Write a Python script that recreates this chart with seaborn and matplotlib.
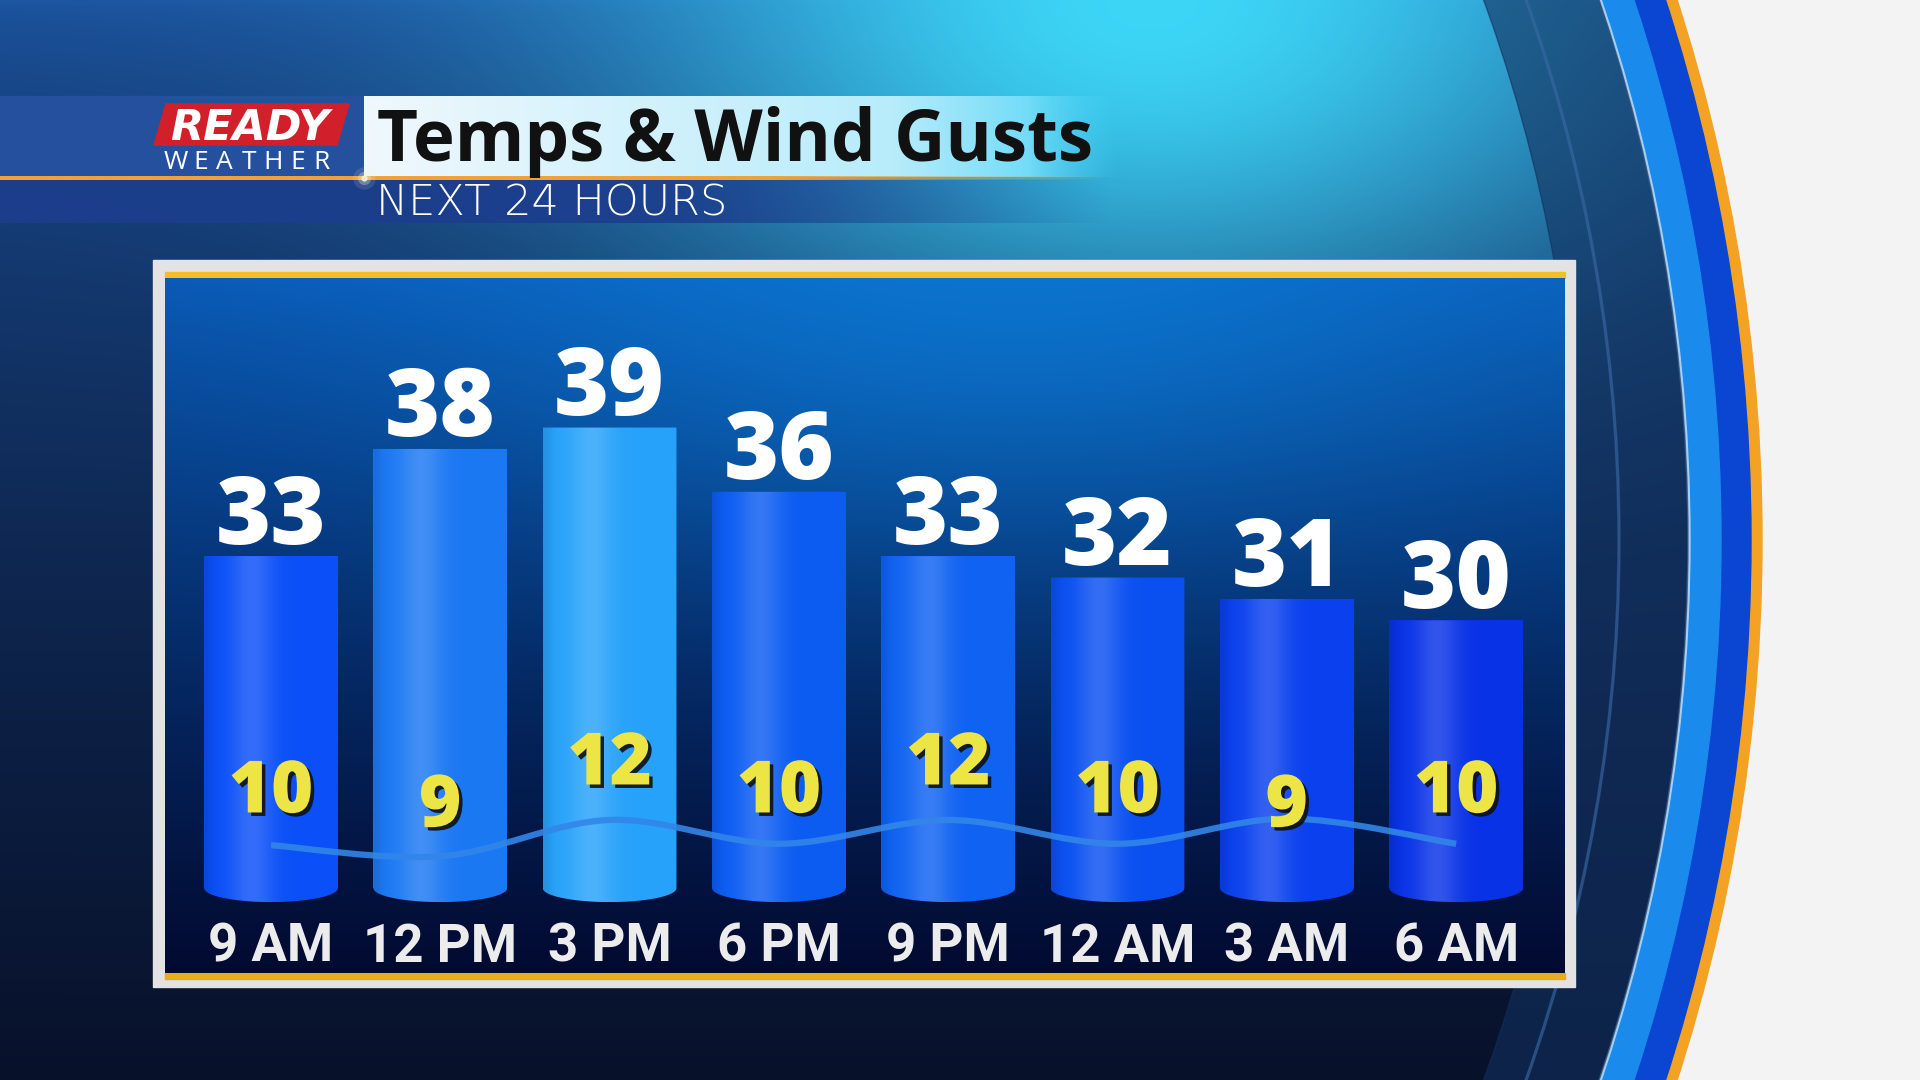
import matplotlib
matplotlib.use("Agg")
import matplotlib.pyplot as plt
import matplotlib.patheffects as pe
from matplotlib.patches import Rectangle, Wedge, Polygon, PathPatch
from matplotlib.path import Path
from matplotlib.colors import to_rgb
import numpy as np
import seaborn as sns

# data
hours = ["9 AM", "12 PM", "3 PM", "6 PM", "9 PM", "12 AM", "3 AM", "6 AM"]
temps = [33, 38, 39, 36, 33, 32, 31, 30]
gusts = [10, 9, 12, 10, 12, 10, 9, 10]
gust_trend = [5.7, 4.9, 7.5, 5.8, 7.5, 5.8, 7.6, 5.8]

title = "Temps & Wind Gusts"
subtitle = "NEXT 24 HOURS"

# style
bar_colors = ["#0a4ff7", "#1b78f3", "#27a2fa", "#0c5cf2", "#0f62f2", "#0a50f0", "#0a40ee", "#0832e6"]
BASE = 17.5

sns.set_theme(style="white")
plt.rcParams["font.family"] = ["Open Sans", "DejaVu Sans"]

W, H = 1920, 1080
fig = plt.figure(figsize=(19.2, 10.8), dpi=100)


def mix(c1, c2, t):
    a = np.array(to_rgb(c1)) if isinstance(c1, str) else c1
    b = np.array(to_rgb(c2)) if isinstance(c2, str) else c2
    t = np.asarray(t)[..., None]
    return a * (1 - t) + b * t


# ---- background (pixel coordinates) ----
bg = fig.add_axes([0, 0, 1, 1])
yy, xx = np.mgrid[0:H:4, 0:W:4].astype(float)
img = mix("#1c55a2", "#08112a", (yy / H) ** 0.6)
glow = np.exp(-((xx - 1150) / 520) ** 2 - (yy / 330) ** 2)
img = mix(img, "#3dd6f7", glow)
bg.imshow(img, extent=[0, W, H, 0], interpolation="bilinear", aspect="auto", zorder=0)

cx, cy = 2, 540
bg.add_patch(Wedge((cx, cy), 4200, 0, 360, width=4200 - 1760, color="#f3f3f3", zorder=1))
bg.add_patch(Wedge((cx, cy), 1760, 0, 360, width=11, color="#f4a223", zorder=1))
bg.add_patch(Wedge((cx, cy), 1749, 0, 360, width=30, color="#0b46d2", zorder=1))
bg.add_patch(Wedge((cx, cy), 1719, 0, 360, width=32, color="#1a8aec", zorder=1))
bg.add_patch(Wedge((cx, cy), 1688, 0, 360, width=2, color="#a6d0f2", zorder=1))
bg.add_patch(Wedge((cx, cy), 1686, 0, 360, width=109, color="#12305e", alpha=0.6, zorder=1))
bg.add_patch(Wedge((cx, cy), 1618, 0, 360, width=2, color="#3a68a5", alpha=0.5, zorder=1))

# header band
bg.add_patch(Rectangle((0, 96), 364, 82, color="#25509e", zorder=2))
u = np.linspace(0, 1, 400)
box = np.zeros((1, 400, 4))
box[0, :, :3] = mix(mix("#f0f8fd", "#b8ecfb", np.clip(u / 0.7, 0, 1)), "#45d2f6", np.clip((u - 0.7) / 0.3, 0, 1))
box[0, :, 3] = np.clip((1 - u) / 0.12, 0, 1)
bg.imshow(box, extent=[364, 1120, 177, 96], aspect="auto", interpolation="bilinear", zorder=2)

band = np.zeros((1, 400, 4))
band[0, :, :3] = to_rgb("#1c3e8d")
band[0, :, 3] = 0.92 * np.clip((1 - u) / 0.4, 0, 1)
bg.imshow(band, extent=[0, 1110, 223, 179], aspect="auto", interpolation="bilinear", zorder=2)

line = np.zeros((1, 400, 4))
line[0, :, :3] = to_rgb("#eea23a")
line[0, :, 3] = np.clip((1 - u) / 0.3, 0, 1)
bg.imshow(line, extent=[0, 1110, 180, 176], aspect="auto", interpolation="bilinear", zorder=3)
for s, a in [(260, 0.12), (90, 0.3), (20, 0.9)]:
    bg.scatter([364], [178], s=s, color="#fff3d6", alpha=a, linewidths=0, zorder=3)

# logo
bg.add_patch(Polygon([(166, 104), (349, 104), (337, 145), (154, 145)], closed=True,
                     color="#d2202a", zorder=3, joinstyle="round"))
bg.text(250, 140, "READY", ha="center", va="baseline", fontsize=31, color="white",
        family="DejaVu Sans", fontweight="bold", style="italic", zorder=4)
for lx, ch in zip(np.linspace(176, 322, 7), "WEATHER"):
    bg.text(lx, 169, ch, ha="center", va="baseline", fontsize=19, color="white", zorder=4)

bg.text(377, 161, title, ha="left", va="baseline", fontsize=51, fontweight="bold",
        color="#111111", zorder=4)
bg.text(376, 216, subtitle, ha="left", va="baseline", fontsize=31, fontweight="light",
        family="DejaVu Sans", color="white", zorder=4)

# chart frame
bg.add_patch(Rectangle((153, 260), 1422, 727, color="#e3e3e3", zorder=4))
bg.add_patch(Rectangle((165, 272), 1400, 6, color="#f2bf2a", zorder=5))
bg.add_patch(Rectangle((165, 973), 1400, 6, color="#e9ad1c", zorder=5))
py, px = np.mgrid[0:695:3, 0:1400:3].astype(float)
pimg = mix("#0a58b4", "#020a30", (py / 695) ** 0.85)
pglow = 0.6 * np.exp(-((px - 850) / 600) ** 2 - (py / 260) ** 2)
pimg = mix(pimg, "#0c86e0", pglow)
bg.imshow(pimg, extent=[165, 1565, 973, 278], aspect="auto", interpolation="bilinear", zorder=5)

bg.set_xlim(0, W)
bg.set_ylim(H, 0)
bg.axis("off")

# ---- chart ----
ax = fig.add_axes([165 / W, (H - 973) / H, 1400 / W, 695 / H])
ax.patch.set_alpha(0)
sns.barplot(x=hours, y=temps, hue=hours, palette=bar_colors, legend=False,
            width=0.79, saturation=1, linewidth=0, ax=ax)

bars = sorted(ax.patches, key=lambda p: p.get_x())
centers = []
ell_h = 1.3
for p, c, t in zip(bars, bar_colors, temps):
    x0, w, top = p.get_x(), p.get_width(), p.get_height()
    p.set_y(BASE)
    p.set_height(top - BASE)
    xc = x0 + w / 2
    centers.append(xc)
    th = np.linspace(np.pi, 0, 60)
    outline = [(x0, top), (x0, BASE)] + list(zip(xc + w / 2 * np.cos(th), BASE - ell_h / 2 * np.sin(th))) + [(x0 + w, top), (x0, top)]
    cyl = PathPatch(Path(outline), facecolor="none", edgecolor="none", transform=ax.transData)
    ax.add_patch(cyl)
    uu = np.linspace(0, 1, 200)
    base = np.array(to_rgb(c))
    hl = np.exp(-((uu - 0.36) / 0.16) ** 2)
    col = base + (1 - base) * 0.17 * hl[:, None]
    col = col * (1 - 0.1 * np.exp(-(uu / 0.06) ** 2))[:, None]
    im = ax.imshow(col[None, :, :], extent=[x0, x0 + w, BASE - ell_h / 2, top],
                   aspect="auto", interpolation="bilinear", zorder=2)
    im.set_clip_path(cyl)
    ax.annotate(str(t), xy=(xc, top), xytext=(0, 9), textcoords="offset points",
                ha="center", va="baseline", fontsize=68, fontweight="heavy", color="white", zorder=5)

ax.set_xlim(-0.626, 7.643)
ax.set_ylim(13.54, 45.98)
ax.set_xticks(range(len(hours)))
ax.set_xticklabels(hours, color="#ececec", fontsize=38, fontweight="bold",
                   family=["Roboto", "DejaVu Sans"])
ax.tick_params(axis="x", length=0, pad=-37)
ax.set_yticks([])
ax.set_xlabel("")
ax.set_ylabel("")
for s in ax.spines.values():
    s.set_visible(False)

# wind gusts on a twin scale
ax2 = ax.twinx()
ax2.set_ylim(-3.43, 46.21)
pts = np.column_stack([centers, gust_trend])
verts, codes = [pts[0]], [Path.MOVETO]
for k in range(len(pts) - 1):
    p0 = pts[k - 1] if k > 0 else pts[k]
    p1, p2 = pts[k], pts[k + 1]
    p3 = pts[k + 2] if k + 2 < len(pts) else pts[k + 1]
    verts += [p1 + (p2 - p0) / 6, p2 - (p3 - p1) / 6, p2]
    codes += [Path.CURVE4] * 3
ax2.add_patch(PathPatch(Path(verts, codes), fill=False, edgecolor="#3286e8", lw=4.5,
                        alpha=0.9, zorder=3))
for xc, g in zip(centers, gusts):
    ax2.text(xc, g, str(g), ha="center", va="center_baseline", fontsize=52, fontweight="heavy",
             color="#ece545", zorder=4,
             path_effects=[pe.withSimplePatchShadow(offset=(2.5, -2.5), shadow_rgbFace="#111111", alpha=0.9)])
ax2.set_yticks([])
for s in ax2.spines.values():
    s.set_visible(False)

fig.savefig("out.png", dpi=100)
